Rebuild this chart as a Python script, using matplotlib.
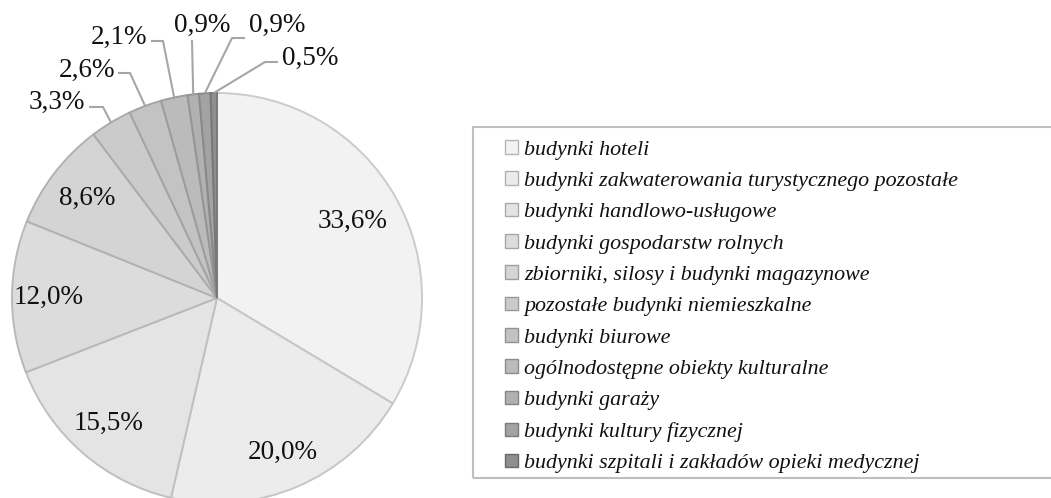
import matplotlib
matplotlib.use("Agg")
import matplotlib.pyplot as plt
import matplotlib.colors as mcolors
from matplotlib.patches import Rectangle
import numpy as np

categories = [
    "budynki hoteli",
    "budynki zakwaterowania turystycznego pozostałe",
    "budynki handlowo-usługowe",
    "budynki gospodarstw rolnych",
    "zbiorniki, silosy i budynki magazynowe",
    "pozostałe budynki niemieszkalne",
    "budynki biurowe",
    "ogólnodostępne obiekty kulturalne",
    "budynki garaży",
    "budynki kultury fizycznej",
    "budynki szpitali i zakładów opieki medycznej",
]
values = [33.6, 20.0, 15.5, 12.0, 8.6, 3.3, 2.6, 2.1, 0.9, 0.9, 0.5]
labels = ["33,6%", "20,0%", "15,5%", "12,0%", "8,6%", "3,3%", "2,6%", "2,1%", "0,9%", "0,9%", "0,5%"]

colors = ['#f2f2f2', '#ececec', '#e4e4e4', '#dcdcdc', '#d4d4d4', '#cbcbcb',
          '#c3c3c3', '#bbbbbb', '#b1b1b1', '#a3a3a3', '#8f8f8f']

W, H = 1051, 498
fig = plt.figure(figsize=(W / 100, H / 100), dpi=100)
ax = fig.add_axes([0, 0, 1, 1])

cx, cy, R = 217, 200, 205

def darker(c, f):
    r, g, b = mcolors.to_rgb(c)
    return (r * f, g * f, b * f)

wedges, _ = ax.pie(values, colors=colors, startangle=90, counterclock=False,
                   center=(cx, cy), radius=R, frame=True,
                   wedgeprops=dict(linewidth=1.4))
for w, c in zip(wedges, colors):
    w.set_edgecolor(darker(c, 0.84))
ax.set_xlim(0, W)
ax.set_ylim(0, H)
ax.set_aspect('equal')
ax.axis('off')

total = sum(values)
cum = np.cumsum([0] + values[:-1])
mids = [90 - (c + v / 2) / total * 360 for c, v in zip(cum, values)]

label_font = dict(family='Liberation Serif', size=19.5, color='#111111')

# inside labels
inner_dist = [0.76, 0.82, 0.81, 0.82, 0.80]
for i, d in enumerate(inner_dist):
    a = np.deg2rad(mids[i])
    ax.text(cx + d * R * np.cos(a), cy + d * R * np.sin(a), labels[i],
            ha='center', va='center', **label_font)

# outside labels with leader lines: (elbow x, elbow y, text x, text y, ha, line end x)
outer = [
    (103, 391, 85, 396, 'right', 89),
    (130, 425, 115, 428, 'right', 118),
    (163, 457, 147, 461, 'right', 151),
    (192, 458, 202, 473, 'center', None),
    (232, 460, 249, 473, 'left', 245),
    (265, 436, 282, 440, 'left', 278),
]
lc = '#a6a6a6'
for k, (ex, ey, tx, ty, ha, lx) in enumerate(outer):
    i = 5 + k
    a = np.deg2rad(mids[i])
    px, py = cx + R * np.cos(a), cy + R * np.sin(a)
    xs, ys = [px, ex], [py, ey]
    if lx is not None:
        xs.append(lx)
        ys.append(ey)
    ax.plot(xs, ys, color=lc, lw=1.5, solid_capstyle='butt')
    ax.text(tx, ty, labels[i], ha=ha, va='center', **label_font)

# legend frame
fig.patches.append(Rectangle((473 / W, 1 - 478 / H), 600 / W, 351 / H,
                             transform=fig.transFigure, fill=False,
                             edgecolor='#bfbfbf', linewidth=1.5))

handles = []
for w, c in zip(wedges, colors):
    handles.append(Rectangle((0, 0), 1, 1, facecolor=c, edgecolor=darker(c, 0.75), linewidth=1.0))

leg = fig.legend(handles, categories, loc='upper left',
                 bbox_to_anchor=(505 / W, 1 - 140 / H), frameon=False,
                 prop=dict(family='Liberation Serif', style='italic', size=15.8),
                 handlelength=0.57, handleheight=0.57, handletextpad=0.3,
                 labelspacing=0.54, borderpad=0, borderaxespad=0)
for t in leg.get_texts():
    t.set_color('#111111')

fig.savefig("out.png", dpi=100)
